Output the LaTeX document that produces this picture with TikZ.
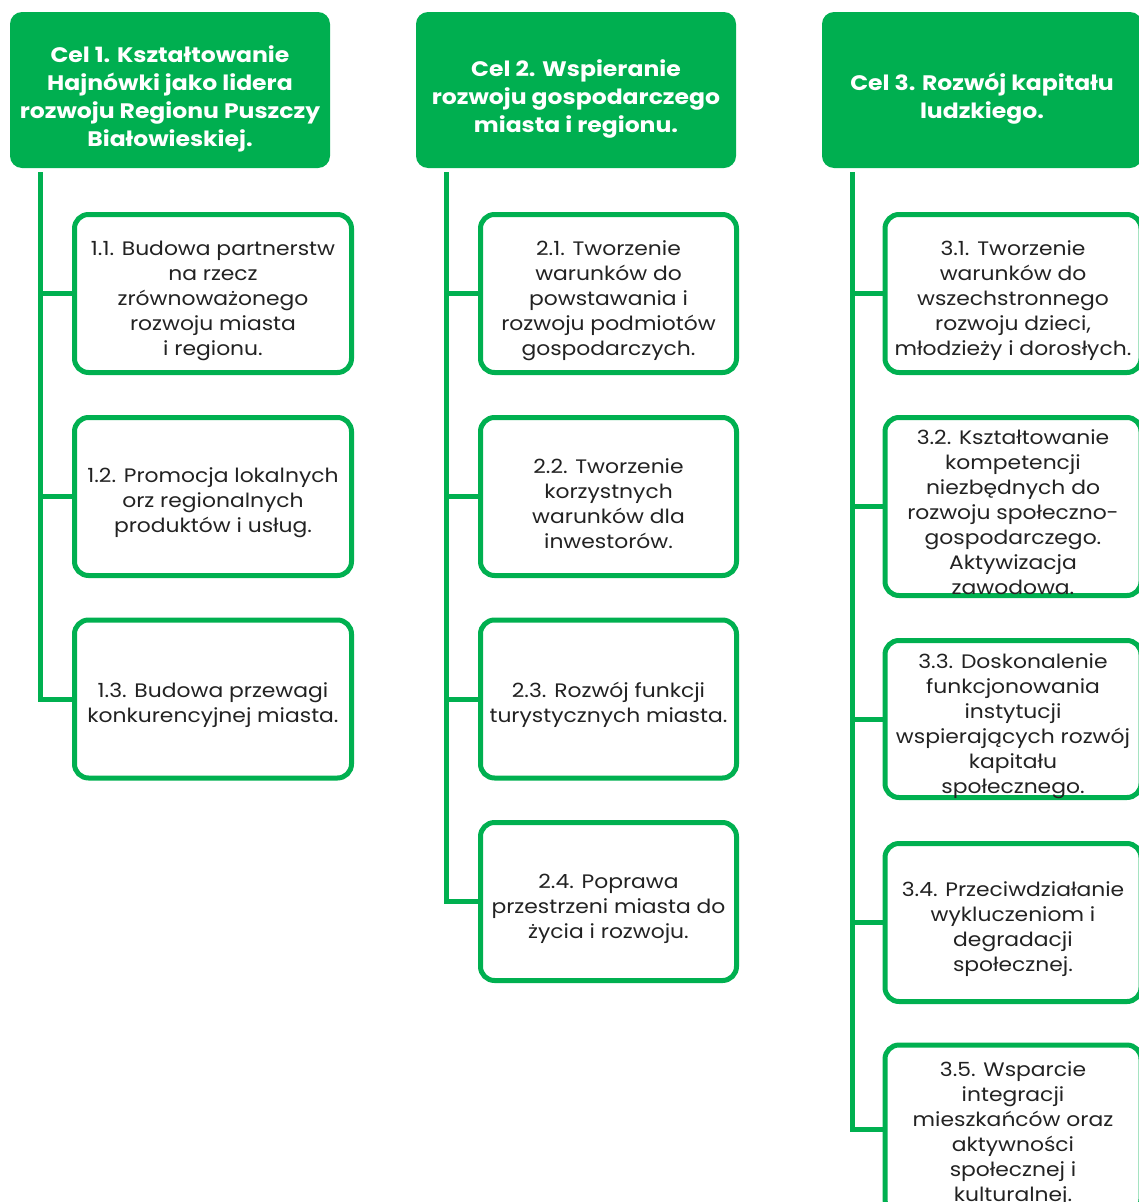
\documentclass[tikz,border=0pt]{standalone}
\usepackage{fontspec}
\setmainfont{Poppins}[FakeStretch=1.12]
\definecolor{celgreen}{HTML}{00AF50}
\definecolor{framegreen}{HTML}{00B050}
\definecolor{tasktext}{HTML}{222222}

\begin{document}
\begin{tikzpicture}[x=1pt,y=-1pt,
  goal/.style={fill=celgreen, rounded corners=12pt, minimum width=320pt,
    minimum height=156pt, inner sep=0pt},
  goaltext/.style={inner sep=0pt, text=white, align=center,
    font=\fontsize{21}{28}\selectfont\bfseries},
  task/.style={draw=framegreen, line width=5pt, rounded corners=14pt,
    fill=white, inner sep=0pt, minimum height=158pt},
  taskwide/.style={task, minimum width=277pt},
  tasknarrow/.style={task, minimum width=256pt},
  tasktext/.style={inner sep=0pt, text=tasktext, align=center,
    font=\fontsize{19.5}{25}\selectfont},
  link/.style={draw=framegreen, line width=5pt}]
\useasboundingbox (0,0) rectangle (1139,1202);
\clip (0,0) rectangle (1139,1202);

% Goals
\node[goal] (goal1) at (170,90) {};
\node[goal] (goal2) at (576,90) {};
\node[goal] (goal3) at (982,90) {};
\node[goaltext] (goal1text) at ([yshift=-9pt]goal1.center) {Cel 1. Kształtowanie\\ Hajnówki jako lidera\\ rozwoju Regionu Puszczy\\ Białowieskiej.};
\node[goaltext] (goal2text) at ([yshift=-9pt]goal2.center) {Cel 2. Wspieranie\\ rozwoju gospodarczego\\ miasta i regionu.};
\node[goaltext] (goal3text) at ([yshift=-9pt]goal3.center) {Cel 3. Rozwój kapitału\\ ludzkiego.};

% Tasks of goal 1
\node[taskwide] (task11) at (213,293.5) {};
\node[taskwide] (task12) at (213,496.5) {};
\node[taskwide] (task13) at (213,699) {};
\node[tasktext] (task11text) at ([yshift=-7pt]task11.center) {1.1. Budowa partnerstw\\ na rzecz\\ zrównoważonego\\ rozwoju miasta\\ i regionu.};
\node[tasktext] (task12text) at ([yshift=-6pt]task12.center) {1.2. Promocja lokalnych\\ orz regionalnych\\ produktów i usług.};
\node[tasktext] (task13text) at ([yshift=-6pt]task13.center) {1.3. Budowa przewagi\\ konkurencyjnej miasta.};

% Tasks of goal 2
\node[tasknarrow] (task21) at (608.5,293.5) {};
\node[tasknarrow] (task22) at (608.5,496.5) {};
\node[tasknarrow] (task23) at (608.5,699) {};
\node[tasknarrow] (task24) at (608.5,901.5) {};
\node[tasktext] (task21text) at ([yshift=-7pt]task21.center) {2.1. Tworzenie\\ warunków do\\ powstawania i\\ rozwoju podmiotów\\ gospodarczych.};
\node[tasktext] (task22text) at ([yshift=-7pt]task22.center) {2.2. Tworzenie\\ korzystnych\\ warunków dla\\ inwestorów.};
\node[tasktext] (task23text) at ([yshift=-6pt]task23.center) {2.3. Rozwój funkcji\\ turystycznych miasta.};
\node[tasktext] (task24text) at ([yshift=-7pt]task24.center) {2.4. Poprawa\\ przestrzeni miasta do\\ życia i rozwoju.};

% Tasks of goal 3
\node[tasknarrow] (task31) at (1013,293.5) {};
\node[tasknarrow, minimum height=178pt] (task32) at (1013,506.5) {};
\node[tasknarrow, minimum height=157pt] (task33) at (1013,719) {};
\node[tasknarrow] (task34) at (1013,922.5) {};
\node[tasknarrow, minimum height=168pt] (task35) at (1013,1129) {};
\node[tasktext] (task31text) at ([yshift=-7pt]task31.center) {3.1. Tworzenie\\ warunków do\\ wszechstronnego\\ rozwoju dzieci,\\ młodzieży i dorosłych.};
\node[tasktext] (task32text) at ([yshift=-6pt]task32.center) {3.2. Kształtowanie\\ kompetencji\\ niezbędnych do\\ rozwoju społeczno-\\ gospodarczego.\\ Aktywizacja\\ zawodowa.};
\node[tasktext] (task33text) at ([yshift=-7pt]task33.center) {3.3. Doskonalenie\\ funkcjonowania\\ instytucji\\ wspierających rozwój\\ kapitału\\ społecznego.};
\node[tasktext] (task34text) at ([yshift=-7pt]task34.center) {3.4. Przeciwdziałanie\\ wykluczeniom i\\ degradacji\\ społecznej.};
\node[tasktext] (task35text) at ([yshift=-5pt]task35.center) {3.5. Wsparcie\\ integracji\\ mieszkańców oraz\\ aktywności\\ społecznej i\\ kulturalnej.};

% Trunks and branches
\coordinate (trunk1) at (40,172);
\coordinate (trunk2) at (446,172);
\coordinate (trunk3) at (852,172);
\draw[link] (trunk1) |- (task13.west);
\draw[link] (trunk2) |- (task24.west);
\draw[link] (trunk3) |- (task35.west);
\foreach \t in {task11,task12}
  \draw[link] (trunk1 |- \t.west) -- (\t.west);
\foreach \t in {task21,task22,task23}
  \draw[link] (trunk2 |- \t.west) -- (\t.west);
\foreach \t in {task31,task32,task33,task34}
  \draw[link] (trunk3 |- \t.west) -- (\t.west);
\end{tikzpicture}
\end{document}
